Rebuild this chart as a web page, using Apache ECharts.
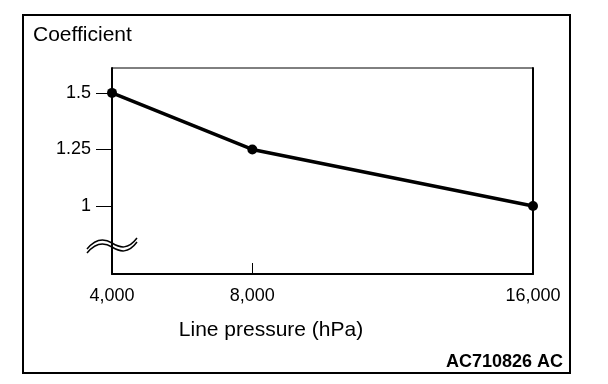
<!DOCTYPE html>
<html>
<head>
<meta charset="utf-8">
<script src="https://cdn.jsdelivr.net/npm/echarts@6/dist/echarts.min.js"></script>
<style>html,body{margin:0;padding:0;background:#fff}#c{width:608px;height:384px}</style>
</head>
<body>
<div id="c"></div>
<script>
var pressures = [4000, 8000, 16000];
var coefficients = [1.5, 1.25, 1];
var xTickLabels = [4000, 8000, 16000];
var xTickMarks = [8000];
var yTickLabels = [1, 1.25, 1.5];
var yTitle = 'Coefficient';
var xTitle = 'Line pressure (hPa)';
var figureCode = 'AC710826 AC';

var FONT = '"Liberation Sans", Arial, sans-serif';
var chart = echarts.init(document.getElementById('c'), null, {renderer: 'canvas'});
var data = pressures.map(function (p, i) { return [p, coefficients[i]]; });

function wave(dy) {
  var s = {fill: 'none', stroke: '#000', lineWidth: 1.5};
  return [
    {type: 'bezierCurve', z: 100, shape: {x1: 87, y1: 249 + dy, cpx1: 96, cpy1: 238 + dy, cpx2: 104, cpy2: 238 + dy, x2: 112, y2: 243 + dy}, style: s},
    {type: 'bezierCurve', z: 100, shape: {x1: 112, y1: 243 + dy, cpx1: 120, cpy1: 248 + dy, cpx2: 128, cpy2: 250 + dy, x2: 137, y2: 238 + dy}, style: s}
  ];
}

chart.setOption({
  animation: false,
  backgroundColor: '#fff',
  grid: {left: 112, right: 75, top: 68, bottom: 110, show: true, borderColor: '#000', borderWidth: 1},
  xAxis: {
    type: 'value', min: 4000, max: 16000,
    splitLine: {show: false},
    axisLine: {show: true, lineStyle: {color: '#000', width: 2}},
    axisTick: {show: true, inside: true, length: 11, customValues: xTickMarks, lineStyle: {color: '#000', width: 1}},
    axisLabel: {
      customValues: xTickLabels, margin: 13, color: '#000', fontFamily: FONT, fontSize: 18,
      formatter: function (v) { return v.toLocaleString('en-US'); }
    }
  },
  yAxis: [{
    type: 'value', min: 0.7, max: 1.61,
    splitLine: {show: false},
    axisLine: {show: true, lineStyle: {color: '#000', width: 2}},
    axisTick: {show: true, length: 16, customValues: yTickLabels, lineStyle: {color: '#000', width: 1}},
    axisLabel: {customValues: yTickLabels, margin: 21, color: '#000', fontFamily: FONT, fontSize: 18,
      formatter: function (v) { return String(v); }}
  }, {
    type: 'value', min: 0.7, max: 1.61, position: 'right',
    splitLine: {show: false},
    axisLine: {show: true, lineStyle: {color: '#000', width: 2}},
    axisTick: {show: false}, axisLabel: {show: false}
  }],
  series: [{
    type: 'line', data: data,
    symbol: 'circle', symbolSize: 10,
    lineStyle: {color: '#000', width: 3.5},
    itemStyle: {color: '#000'},
    clip: false
  }],
  graphic: [
    {type: 'rect', shape: {x: 23, y: 15, width: 547, height: 358}, style: {fill: 'none', stroke: '#000', lineWidth: 2}, z: 100},
    {type: 'text', x: 33, y: 25, style: {text: yTitle, font: '21px ' + FONT, fill: '#000'}},
    {type: 'text', x: 271, y: 320, style: {text: xTitle, font: '21px ' + FONT, fill: '#000', textAlign: 'center'}},
    {type: 'text', x: 563, y: 353, style: {text: figureCode, font: 'bold 18px ' + FONT, fill: '#000', textAlign: 'right'}}
  ].concat(wave(0), wave(4))
});
</script>
</body>
</html>
